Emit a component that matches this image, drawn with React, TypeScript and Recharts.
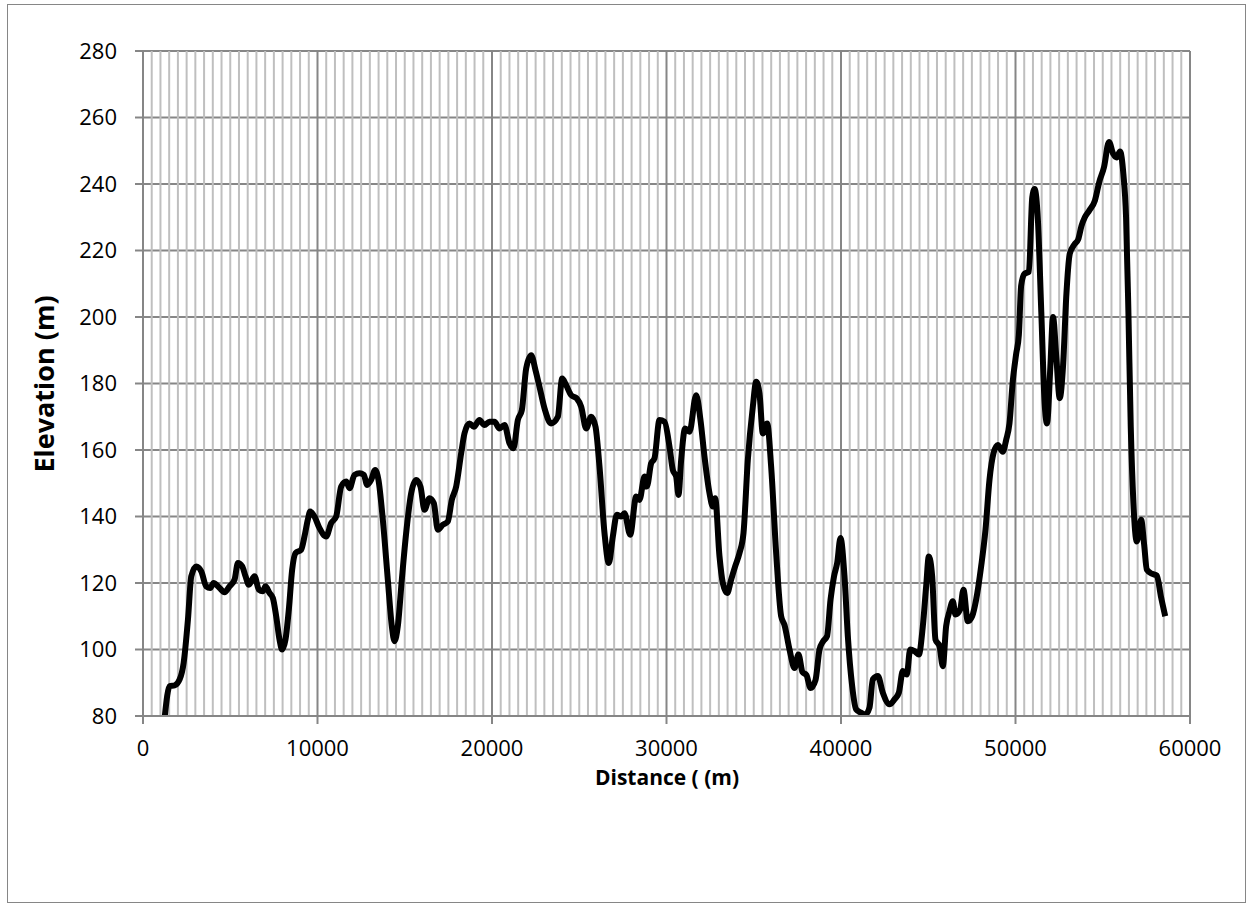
import { LineChart, Line, XAxis, YAxis, CartesianGrid, ReferenceLine } from 'recharts';

// distance along the route (m) and elevation (m)
const DISTANCE = [
  1250, 1526, 1813, 2100, 2330, 2576, 2767, 3053, 3340, 3625, 3854, 4045, 4388, 4674, 4960, 5247, 5438, 5686, 5876,
  6067, 6391, 6640, 6869, 7021, 7250, 7441, 7632, 7822, 7975, 8166, 8357, 8548, 8739, 9063, 9254, 9445, 9578, 9826,
  10115, 10497, 10783, 11070, 11356, 11643, 11834, 12120, 12407, 12655, 12846, 13075, 13304, 13495, 13744, 14030,
  14259, 14412, 14603, 14832, 15080, 15367, 15654, 15902, 16131, 16418, 16666, 16895, 17182, 17468, 17697, 17946,
  18232, 18423, 18710, 18958, 19283, 19569, 19856, 20143, 20430, 20717, 21003, 21232, 21480, 21710, 21958, 22245,
  22493, 22722, 23009, 23391, 23773, 24021, 24250, 24536, 24861, 25110, 25396, 25683, 25931, 26160, 26447, 26695,
  26925, 27154, 27402, 27593, 27918, 28262, 28452, 28739, 28873, 29121, 29312, 29598, 29885, 30172, 30363, 30554,
  30687, 30840, 31069, 31318, 31700, 31948, 32177, 32464, 32655, 32788, 33037, 33227, 33476, 33705, 33934, 34183,
  34412, 34660, 34947, 35138, 35329, 35520, 35768, 35997, 36284, 36570, 36760, 37049, 37335, 37564, 37794, 38023,
  38252, 38539, 38768, 38980, 39200, 39400, 39600, 39780, 39971, 40201, 40392, 40640, 40869, 41155, 41404, 41633,
  41824, 42111, 42397, 42779, 43066, 43314, 43543, 43772, 43963, 44212, 44460, 44689, 44880, 45033, 45224, 45415,
  45644, 45835, 46025, 46216, 46407, 46560, 46828, 47017, 47267, 47515, 47745, 48031, 48280, 48509, 48738, 48986,
  49272, 49464, 49654, 49846, 50038, 50192, 50326, 50518, 50768, 50960, 51094, 51286, 51478, 51670, 51805, 51997,
  52150, 52342, 52534, 52726, 52918, 53110, 53398, 53590, 53782, 53974, 54224, 54550, 54800, 55069, 55357, 55606,
  55798, 55990, 56182, 56336, 56470, 56605, 56758, 56950, 57200, 57373, 57526, 57814, 58102, 58333, 58582,
];

const ELEVATION = [
  80, 89, 89.2, 91, 96, 109, 122, 125, 123.5, 119, 118.5, 120, 118.5, 117.2, 119, 121, 126, 125, 122,
  119.5, 122, 118, 117.5, 119, 117, 115.5, 110, 103, 100, 103, 112, 124, 129, 130, 134, 139, 141.5, 140,
  136.5, 134, 138, 140, 149, 150.5, 148.5, 152.5, 153, 152.5, 149.5, 151, 154, 151, 139, 121,
  107, 102.5, 107, 121, 135, 147, 151, 149, 142, 145.5, 144, 136, 137.5, 138.5, 145, 149,
  159, 165, 168, 167, 169, 167.5, 168.5, 168.5, 166.5, 167.5, 162, 160.5, 169, 172, 184.5, 188.5,
  184, 179, 172.5, 168, 170, 181.5, 179.5, 176.5, 175.5, 173, 166.5, 170, 167, 155, 135, 126,
  134, 140.5, 140, 141, 134.5, 146, 145, 152, 149, 156, 157.5, 169, 168.5, 161, 154, 152,
  146.5, 157, 166.5, 165.5, 176.5, 169, 158, 147, 143, 145.5, 128, 120, 117, 121, 125, 129,
  135, 157, 173, 180.5, 177, 165, 168, 155, 129, 110, 107.4, 100, 94.4, 98.5, 93.2, 92.3,
  88.4, 90.8, 100, 102.5, 104, 115, 122, 126, 133.5, 122, 104, 89, 82, 81, 80.5, 82.5,
  91, 92, 87, 83.5, 85, 87, 93.5, 92.5, 100, 99.5, 98.5, 107, 119, 128, 122, 103,
  101, 95, 107, 111.5, 114.5, 110.5, 112, 118, 108.5, 110, 115, 125, 136, 151, 159, 161.5,
  159.5, 163, 168, 180.8, 188.9, 194.6, 209.5, 213, 213.6, 236, 238.5, 229, 201.5, 174, 168, 185,
  200, 187.7, 175.6, 185.4, 207, 219, 222, 223.3, 227.4, 230, 232, 235, 240.6, 245, 252.6, 249,
  248, 249.8, 243, 230, 201.5, 167, 144, 132.5, 139, 131.5, 124, 122.8, 122.2, 116, 110,
];

const X_TICKS = [0, 10000, 20000, 30000, 40000, 50000, 60000];
const Y_TICKS = [80, 100, 120, 140, 160, 180, 200, 220, 240, 260, 280];

// minor gridlines every 500 m, minor y ticks every 4 m
const X_MINOR = Array.from({ length: 119 }, (_, i) => (i + 1) * 500).filter(v => v % 10000 !== 0);
const Y_MINOR = Array.from({ length: 49 }, (_, i) => 84 + i * 4).filter(v => v % 20 !== 0);

const data = DISTANCE.map((d, i) => ({ d, elev: ELEVATION[i] }));

const AXIS_GREY = '#868686';
const MINOR_GREY = '#bfbfbf';
const FONT = '"Open Sans", "Noto Sans", sans-serif';

export default function App() {
  return (
    <div style={{ position: 'absolute', left: 0, top: 0, width: 1253, height: 908, background: '#fff', fontFamily: FONT }}>
      <div
        style={{
          position: 'absolute', left: 7, top: 4, width: 1239, height: 899,
          border: `1px solid ${AXIS_GREY}`, boxSizing: 'border-box',
        }}
      />
      <div style={{ position: 'absolute', left: 0, top: 0 }}>
        <LineChart width={1253} height={908} data={data} margin={{ top: 51, right: 63, left: 0, bottom: 132 }}>
          <CartesianGrid yAxisId="main" vertical={false} stroke={AXIS_GREY} strokeWidth={2} />
          {X_MINOR.map(v => (
            <ReferenceLine key={v} x={v} yAxisId="main" stroke={MINOR_GREY} strokeWidth={2} />
          ))}
          {X_TICKS.slice(1).map(v => (
            <ReferenceLine key={'M' + v} x={v} yAxisId="main" stroke={AXIS_GREY} strokeWidth={2} />
          ))}
          <XAxis
            dataKey="d"
            type="number"
            domain={[0, 60000]}
            ticks={X_TICKS}
            height={60}
            tickSize={8}
            tickMargin={16}
            axisLine={{ stroke: AXIS_GREY, strokeWidth: 2 }}
            tickLine={{ stroke: AXIS_GREY, strokeWidth: 2 }}
            tick={{ fill: '#000', fontSize: 22, fontFamily: FONT }}
          />
          <YAxis
            yAxisId="main"
            type="number"
            domain={[80, 280]}
            ticks={Y_TICKS}
            width={143}
            tickSize={8}
            tickMargin={18}
            allowDataOverflow
            axisLine={{ stroke: AXIS_GREY, strokeWidth: 2 }}
            tickLine={{ stroke: AXIS_GREY, strokeWidth: 2 }}
            tick={{ fill: '#000', fontSize: 22, fontFamily: FONT }}
          />
          <YAxis
            yAxisId="minor"
            type="number"
            domain={[80, 280]}
            ticks={Y_MINOR}
            width={0}
            mirror
            tickSize={7}
            tick={false}
            axisLine={false}
            tickLine={{ stroke: AXIS_GREY, strokeWidth: 2 }}
          />
          <Line
            yAxisId="main"
            type="monotone"
            dataKey="elev"
            stroke="#000"
            strokeWidth={6}
            strokeLinejoin="round"
            dot={false}
            isAnimationActive={false}
          />
        </LineChart>
      </div>
      <div
        style={{
          position: 'absolute', left: 44, top: 384, transform: 'translate(-50%, -50%) rotate(-90deg)',
          whiteSpace: 'nowrap', fontWeight: 700, fontSize: 27, lineHeight: '28px', color: '#000',
        }}
      >
        Elevation (m)
      </div>
      <div
        style={{
          position: 'absolute', left: 667, top: 777, transform: 'translate(-50%, -50%)',
          whiteSpace: 'nowrap', fontWeight: 700, fontSize: 21, lineHeight: '22px', color: '#000',
        }}
      >
        Distance ( (m)
      </div>
    </div>
  );
}
